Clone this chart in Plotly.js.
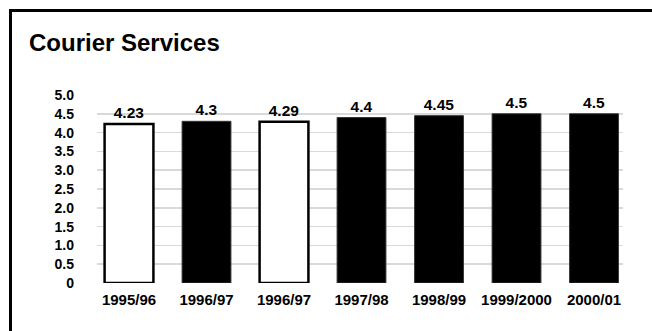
<!DOCTYPE html>
<html>
<head>
<meta charset="utf-8">
<script src="https://cdn.plot.ly/plotly-3.0.1.min.js"></script>
<style>
  html, body { margin: 0; padding: 0; background: #fff; overflow: hidden; }
  #chart { position: absolute; left: 0; top: 0; width: 652px; height: 331px; }
  #frame { position: absolute; left: 9px; top: 9px; width: 800px; height: 500px;
           border: 3px solid #000; box-sizing: border-box; pointer-events: none; }
</style>
</head>
<body>
<div id="chart"></div>
<div id="frame"></div>
<script>
// ---- data ----
var categories = ["1995/96", "1996/97", "1996/97", "1997/98", "1998/99", "1999/2000", "2000/01"];
var values = [4.23, 4.3, 4.29, 4.4, 4.45, 4.5, 4.5];
var valueLabels = ["4.23", "4.3", "4.29", "4.4", "4.45", "4.5", "4.5"];
var yTickValues = [0, 0.5, 1, 1.5, 2, 2.5, 3, 3.5, 4, 4.5, 5];
var yTickLabels = ["0", "0.5", "1.0", "1.5", "2.0", "2.5", "3.0", "3.5", "4.0", "4.5", "5.0"];
var hollow = [true, false, true, false, false, false, false];

// ---- styles ----
var positions = categories.map(function (c, i) { return i; });
var fillColors = hollow.map(function (h) { return h ? "#ffffff" : "#000000"; });
var lineWidths = hollow.map(function (h) { return h ? 2.5 : 1; });
var lineColors = hollow.map(function (h) { return h ? "#000000" : "#333333"; });
var FONT = "Liberation Sans, Arial, Helvetica, sans-serif";

var trace = {
  type: "bar",
  x: positions,
  y: values,
  width: 0.63,
  text: valueLabels,
  textposition: "outside",
  cliponaxis: false,
  textfont: { family: FONT, size: 15.5, color: "#000", weight: "bold" },
  marker: { color: fillColors, line: { color: lineColors, width: lineWidths } },
  hoverinfo: "skip"
};

var layout = {
  width: 652, height: 331,
  margin: { l: 97, r: 29, t: 95, b: 48, pad: 0 },
  paper_bgcolor: "#ffffff", plot_bgcolor: "#ffffff",
  showlegend: false,
  font: { family: FONT, color: "#000" },
  title: {
    text: "<b>Courier Services</b>",
    font: { family: FONT, size: 24, color: "#000" },
    xref: "container", yref: "container",
    x: 29 / 652, xanchor: "left",
    y: 1 - 43 / 331, yanchor: "middle"
  },
  xaxis: {
    type: "linear",
    range: [-0.413, 6.374],
    tickmode: "array",
    tickvals: positions,
    ticktext: categories,
    showgrid: false, zeroline: false, showline: false,
    ticks: "",
    ticklabelstandoff: 6,
    tickfont: { family: FONT, size: 15, color: "#000", weight: "bold" },
    fixedrange: true
  },
  yaxis: {
    range: [0, 5],
    tickmode: "array",
    tickvals: yTickValues,
    ticktext: yTickLabels,
    showgrid: true, gridcolor: "#d9d9d9", gridwidth: 1.5,
    zeroline: false, showline: false,
    ticks: "",
    ticklabelstandoff: 22,
    tickfont: { family: FONT, size: 14, color: "#000", weight: "bold" },
    fixedrange: true
  },
  bargap: 0.2
};

Plotly.newPlot("chart", [trace], layout, { displayModeBar: false, staticPlot: true });
</script>
</body>
</html>
